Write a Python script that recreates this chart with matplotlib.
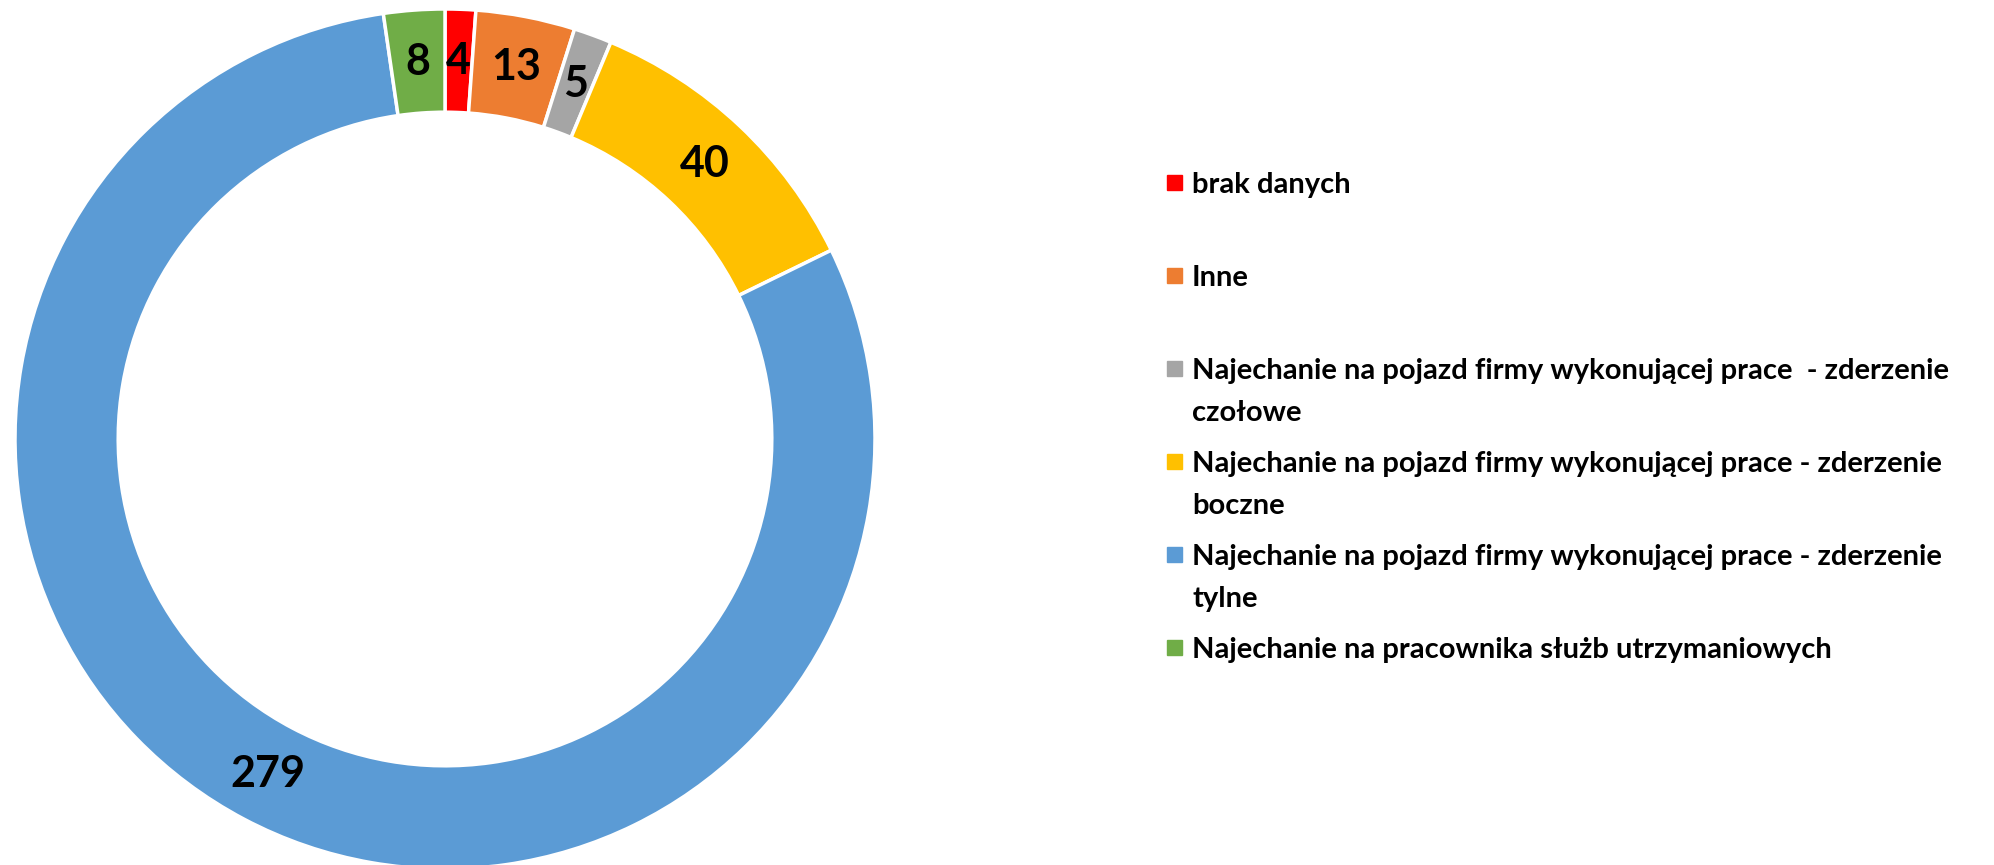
import matplotlib
matplotlib.use("Agg")
import matplotlib.pyplot as plt
from matplotlib.patches import Rectangle
import numpy as np

plt.rcParams['font.family'] = ['Lato', 'DejaVu Sans']
plt.rcParams['font.weight'] = 'bold'

# data
categories = [
    "brak danych",
    "Inne",
    "Najechanie na pojazd firmy wykonującej prace  - zderzenie\nczołowe",
    "Najechanie na pojazd firmy wykonującej prace - zderzenie\nboczne",
    "Najechanie na pojazd firmy wykonującej prace - zderzenie\ntylne",
    "Najechanie na pracownika służb utrzymaniowych",
]
counts = [4, 13, 5, 40, 279, 8]
colors = ["#FF0000", "#ED7D31", "#A5A5A5", "#FFC000", "#5B9BD5", "#70AD47"]

W, H = 1994, 865
fig = plt.figure(figsize=(W / 100, H / 100), dpi=100)

# donut: centre (445, 439) px, outer radius 430 px
cx, cy, R = 445, 439, 430
ax = fig.add_axes([(cx - R) / W, (H - cy - R) / H, 2 * R / W, 2 * R / H])
wedges, _ = ax.pie(counts, colors=colors, startangle=90, counterclock=False,
                   radius=1, wedgeprops=dict(width=0.24, edgecolor='white', linewidth=2.5))
ax.set_xlim(-1, 1)
ax.set_ylim(-1, 1)
ax.set_aspect('equal')
ax.axis('off')

for w, n in zip(wedges, counts):
    mid = np.deg2rad((w.theta1 + w.theta2) / 2)
    ax.text(0.88 * np.cos(mid), 0.88 * np.sin(mid), str(n), ha='center', va='center',
            fontsize=31, fontweight='bold', color='black')

# legend drawn by hand to match Excel's spacing
y0 = 183
step = 93
for i, (lab, col) in enumerate(zip(categories, colors)):
    y = y0 + i * step
    fig.patches.append(Rectangle((1167 / W, (H - y - 7) / H), 15 / W, 15 / H,
                                 transform=fig.transFigure, color=col))
    first, *rest = lab.split("\n")
    fig.text(1192 / W, (H - y - 10) / H, first, ha='left', va='baseline', fontsize=21,
             fontweight='bold', color='black')
    for k, line in enumerate(rest, start=1):
        fig.text(1192 / W, (H - y - 10 - 42 * k) / H, line, ha='left', va='baseline',
                 fontsize=21, fontweight='bold', color='black')

plt.savefig("out.png", dpi=100)
